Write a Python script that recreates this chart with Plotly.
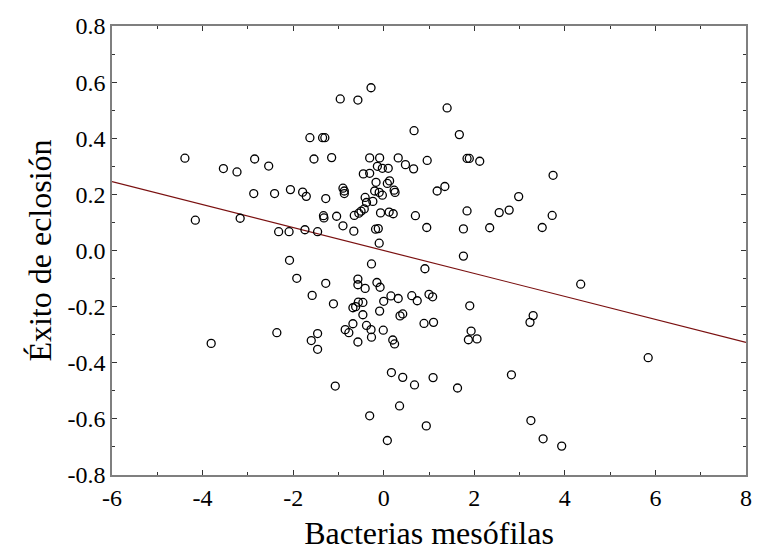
import plotly.graph_objects as go

bacterias = [
    -4.39, -3.54, -3.24, -2.85, -2.54, -2.87, -2.41, -2.06, -4.16, -3.17, -2.32, -2.09,
    -2.08, -1.92, -2.36, -3.81, -0.28, -0.96, -0.57, 1.40, -1.63, -1.35, -1.30, 0.67,
    -1.54, -1.15, -0.31, -0.09, 0.32, 0.96, -0.14, -0.03, 0.10, 0.48, 0.66, -0.45,
    -0.31, -0.17, 0.13, 0.08, -0.20, -0.10, -0.03, 0.23, 0.25, 1.18, 1.35, -1.79,
    -1.71, -1.28, -0.90, -0.87, -0.87, -0.41, -0.38, -0.24, -0.07, 0.12, 0.21, 0.70,
    -1.33, -1.32, -1.04, -0.65, -0.55, -0.50, -0.43, -0.90, -0.66, -0.18, -0.12, 0.95,
    -1.74, -1.46, 1.67, 1.84, 1.89, 2.12, 3.74, 2.98, 1.84, 2.55, 2.77, 3.72,
    1.76, 2.34, 3.50, -0.10, -0.27, 0.91, -1.28, -0.57, -0.57, -0.41, -0.15, -0.08,
    -1.58, -1.11, -0.68, -0.62, -0.56, -0.46, -0.46, -0.68, -0.85, -0.77, -0.38, -0.28,
    -0.27, -0.57, -0.09, 0.00, 0.16, 0.32, -0.01, 0.20, 0.24, 0.36, 0.42, 0.62,
    0.74, 1.00, 1.08, 0.89, 1.10, -1.46, -1.60, -1.46, 0.17, 0.42, 0.68, 1.09,
    -1.07, 1.76, 4.35, 1.90, 3.30, 3.23, 1.93, 1.87, 2.06, 2.82, 1.63, 5.84,
    -0.31, 0.35, 0.94, 0.08, 3.25, 3.52, 3.93,
]
exito = [
    0.329, 0.292, 0.280, 0.326, 0.301, 0.203, 0.203, 0.217, 0.108, 0.115, 0.067, 0.067,
    -0.035, -0.099, -0.293, -0.331, 0.580, 0.540, 0.536, 0.508, 0.402, 0.402, 0.402, 0.427,
    0.326, 0.331, 0.330, 0.330, 0.330, 0.321, 0.300, 0.293, 0.293, 0.306, 0.291, 0.273,
    0.275, 0.243, 0.248, 0.239, 0.212, 0.207, 0.197, 0.215, 0.207, 0.212, 0.228, 0.208,
    0.193, 0.185, 0.222, 0.212, 0.203, 0.189, 0.171, 0.175, 0.134, 0.137, 0.131, 0.124,
    0.124, 0.116, 0.122, 0.125, 0.133, 0.140, 0.148, 0.088, 0.069, 0.076, 0.078, 0.082,
    0.074, 0.067, 0.413, 0.328, 0.328, 0.318, 0.268, 0.192, 0.141, 0.135, 0.144, 0.125,
    0.077, 0.081, 0.082, 0.026, -0.048, -0.065, -0.117, -0.102, -0.122, -0.135, -0.114, -0.131,
    -0.160, -0.190, -0.204, -0.200, -0.184, -0.185, -0.229, -0.261, -0.282, -0.293, -0.267, -0.282,
    -0.309, -0.326, -0.216, -0.181, -0.162, -0.171, -0.284, -0.319, -0.333, -0.233, -0.226, -0.161,
    -0.179, -0.156, -0.165, -0.260, -0.256, -0.296, -0.321, -0.352, -0.435, -0.452, -0.479, -0.453,
    -0.483, -0.020, -0.120, -0.197, -0.232, -0.256, -0.287, -0.318, -0.315, -0.443, -0.490, -0.382,
    -0.589, -0.554, -0.625, -0.677, -0.606, -0.671, -0.697,
]

fit_intercept = 0.0
fit_slope = -0.0409
x_range = [-6, 8]
y_range = [-0.8, 0.8]

x_ticks = [-6, -4, -2, 0, 2, 4, 6, 8]
x_ticktext = ["-6", "-4", "-2", "0", "2", "4", "6", "8"]
y_ticks = [-0.8, -0.6, -0.4, -0.2, 0.0, 0.2, 0.4, 0.6, 0.8]
y_ticktext = ["-0.8", "-0.6", "-0.4", "-0.2", "0.0", "0.2", "0.4", "0.6", "0.8"]

fit_x = x_range
fit_y = [fit_intercept + fit_slope * v for v in fit_x]

FONT = "Liberation Serif"

fig = go.Figure()
fig.add_trace(go.Scatter(
    x=fit_x, y=fit_y, mode="lines",
    line=dict(color="#7a1010", width=1.2), hoverinfo="skip", showlegend=False,
))
fig.add_trace(go.Scatter(
    x=bacterias, y=exito, mode="markers",
    marker=dict(symbol="circle-open", size=8, color="black", line=dict(width=1.3, color="black")),
    showlegend=False,
))

axis_common = dict(
    showgrid=False, zeroline=False, showline=True, mirror="ticks",
    linecolor="#7f7f7f", linewidth=1.5,
    ticks="inside", ticklen=5, tickwidth=1.2, tickcolor="#333",
    tickfont=dict(family=FONT, size=24, color="black"),
)
fig.update_xaxes(
    range=x_range, tickvals=x_ticks, ticktext=x_ticktext,
    minor=dict(ticks="inside", ticklen=3, dtick=1, tickcolor="#333", tickwidth=1),
    title=dict(text="Bacterias mesófilas", font=dict(family=FONT, size=32, color="black"), standoff=12),
    **axis_common,
)
fig.update_yaxes(
    range=y_range, tickvals=y_ticks, ticktext=y_ticktext,
    minor=dict(ticks="inside", ticklen=3, dtick=0.1, tick0=0, tickcolor="#333", tickwidth=1),
    title=dict(text="Éxito de eclosión", font=dict(family=FONT, size=32, color="black"), standoff=6),
    **axis_common,
)
fig.update_layout(
    width=759, height=558,
    margin=dict(l=112, r=7, t=26, b=83),
    paper_bgcolor="white", plot_bgcolor="white",
    font=dict(family=FONT, color="black"),
)
fig.write_html("out.html")
